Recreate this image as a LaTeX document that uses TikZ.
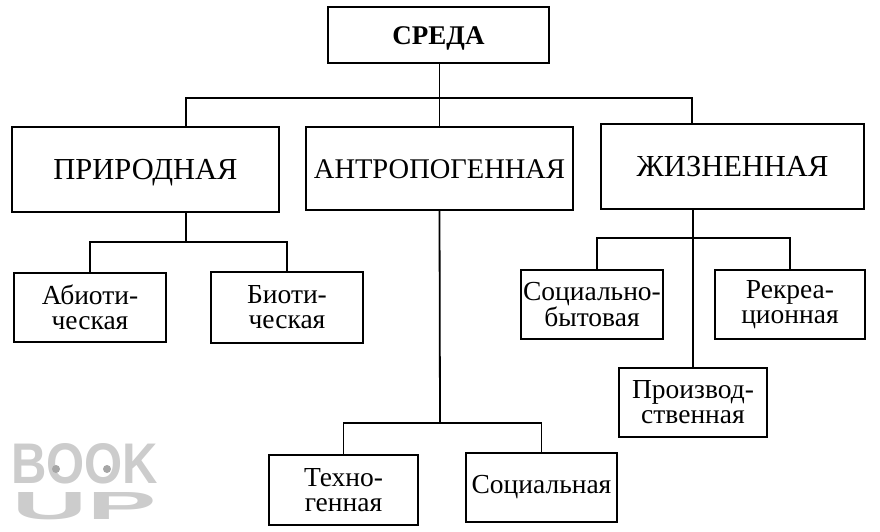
\documentclass[tikz,border=0pt]{standalone}
\usepackage{fontspec}
\usepackage{graphicx}
\setmainfont{Liberation Serif}
\newfontfamily\wmfont{Liberation Sans}
\tikzset{
  box/.style={draw, line width=1.9pt, inner sep=0pt, align=center},
  kind/.style={box, text height=20pt, text depth=0pt, font=\fontsize{30.5}{30}\selectfont},
  sub/.style={box, font=\fontsize{27.5}{25}\selectfont},
  link/.style={line width=1.8pt}
}
\begin{document}
\begin{tikzpicture}[x=1pt, y=-1pt]
\useasboundingbox (0,0) rectangle (880,531);
% watermark
\node[inner sep=0pt, align=center, text=black!20, font=\wmfont\bfseries] (wm) at (84.5,481.5)
  {\resizebox{147pt}{40pt}{BOOK}\\[8pt]\resizebox{144pt}{27pt}{UP}};
\fill[black!35] (56,469) circle (4);
\fill[black!35] (107,469) circle (4);
% top
\node[box, minimum width=221pt, minimum height=56pt, text height=19pt, text depth=0pt, font=\fontsize{27}{28}\selectfont\bfseries] (sreda) at (438.5,35) {СРЕДА};
% level 1
\node[kind, minimum width=267pt, minimum height=85pt] (prir) at (145.5,169.5) {ПРИРОДНАЯ};
\node[kind, minimum width=267pt, minimum height=83pt, font=\fontsize{28.5}{30}\selectfont] (antro) at (439.5,168.5) {АНТРОПОГЕННАЯ};
\node[kind, minimum width=263pt, minimum height=85pt] (zhizn) at (732.5,166.5) {ЖИЗНЕННАЯ};
% level 2
\node[sub, minimum width=152pt, minimum height=69pt] (abio) at (90,307.5) {Абиоти-\\ческая};
\node[sub, minimum width=152pt, minimum height=71pt] (bio) at (287,307.5) {Биоти-\\ческая};
\node[sub, minimum width=149pt, minimum height=70pt] (tekhno) at (343.5,490) {Техно-\\генная};
\node[sub, minimum width=151pt, minimum height=69pt] (soc) at (541.5,487.5) {Социальная};
\node[sub, minimum width=142pt, minimum height=69pt] (socbyt) at (592,304.5) {Социально-\\бытовая};
\node[sub, minimum width=150pt, minimum height=69pt] (rekr) at (790,304.5) {Рекреа-\\ционная};
\node[sub, minimum width=148pt, minimum height=69pt] (proizv) at (693,402.5) {Производ-\\ственная};
% junctions
\coordinate (busL) at (186,98);
\coordinate (busR) at (692,98);
\coordinate (pj) at (186,242);
\coordinate (aj) at (440,423);
\coordinate (zj) at (694,238);
% connectors
\draw[link] (sreda.south -| antro.north) -- (antro.north);
\draw[link] (prir.north -| busL) -- (busL) -- (busR) -- (zhizn.north -| busR);
\draw[link] (prir.south -| pj) -- (pj);
\draw[link] (abio.north) |- (pj) -| (bio.north);
\draw[link] (antro.south) -- (aj);
\draw[link] (tekhno.north) |- (aj) -| (soc.north);
\draw[link] (zhizn.south -| proizv.north) -- (proizv.north);
\draw[link] ([xshift=5pt]socbyt.north) |- (zj) -| (rekr.north);
\end{tikzpicture}
\end{document}
